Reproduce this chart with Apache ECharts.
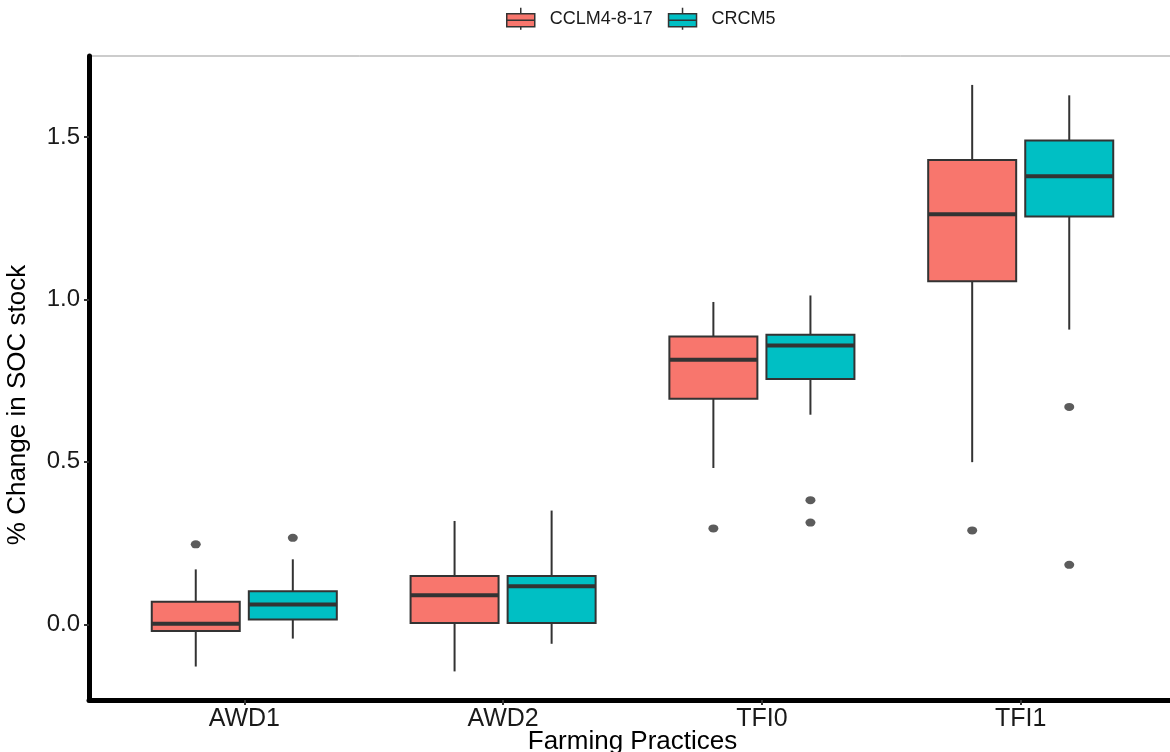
<!DOCTYPE html>
<html>
<head>
<meta charset="utf-8">
<script src="https://cdn.jsdelivr.net/npm/echarts@6/dist/echarts.min.js"></script>
<style>
html,body{margin:0;padding:0;background:#fff;}
#chart{width:1170px;height:752px;}
</style>
</head>
<body>
<div id="chart"></div>
<script>
// ---- data ----
const categories = ['AWD1', 'AWD2', 'TFI0', 'TFI1'];
const seriesNames = ['CCLM4-8-17', 'CRCM5'];
const yTicks = [0, 0.5, 1.0, 1.5];

// CCLM4-8-17 : [lowerWhisker, Q1, median, Q3, upperWhisker] per category
const cclmLow  = [-0.130, -0.145, 0.481, 0.499];
const cclmQ1   = [-0.021,  0.004, 0.694, 1.056];
const cclmMed  = [ 0.002,  0.089, 0.814, 1.262];
const cclmQ3   = [ 0.069,  0.149, 0.886, 1.429];
const cclmHigh = [ 0.169,  0.318, 0.992, 1.660];
const cclmOutliers = [['AWD1', 0.246], ['TFI0', 0.295], ['TFI1', 0.289]];

// CRCM5
const crcmLow  = [-0.044, -0.060, 0.645, 0.907];
const crcmQ1   = [ 0.015,  0.004, 0.755, 1.255];
const crcmMed  = [ 0.061,  0.117, 0.858, 1.379];
const crcmQ3   = [ 0.102,  0.149, 0.891, 1.489];
const crcmHigh = [ 0.200,  0.350, 1.012, 1.628];
const crcmOutliers = [['AWD1', 0.266], ['TFI0', 0.382], ['TFI0', 0.313], ['TFI1', 0.669], ['TFI1', 0.183]];

// ---- styling / layout ----
const colors = ['#F8766D', '#00BFC4'];
const dodge = [-0.1875, 0.1875];
const boxWidth = 0.34;
const FONT = 'Liberation Sans, Arial, sans-serif';

function boxData(lo, q1, med, q3, hi) {
  return categories.map((c, i) => [i + 1, lo[i], q1[i], med[i], q3[i], hi[i]]);
}
function outlierData(list, d) {
  return list.map(o => [categories.indexOf(o[0]) + 1 + d, o[1]]);
}

function makeRender(d, color) {
  return function (params, api) {
    const x = api.value(0);
    const band = api.size([1, 0])[0];
    const cx = api.coord([x + d, 0])[0];
    const w = band * boxWidth;
    const yLo = api.coord([x, api.value(1)])[1];
    const yQ1 = api.coord([x, api.value(2)])[1];
    const yMed = api.coord([x, api.value(3)])[1];
    const yQ3 = api.coord([x, api.value(4)])[1];
    const yHi = api.coord([x, api.value(5)])[1];
    const stroke = '#333333';
    return {
      type: 'group',
      children: [
        { type: 'line', shape: { x1: cx, y1: yHi, x2: cx, y2: yQ3 }, style: { stroke: stroke, lineWidth: 2 } },
        { type: 'line', shape: { x1: cx, y1: yQ1, x2: cx, y2: yLo }, style: { stroke: stroke, lineWidth: 2 } },
        { type: 'rect', shape: { x: cx - w / 2, y: yQ3, width: w, height: yQ1 - yQ3 }, style: { fill: color, stroke: stroke, lineWidth: 2 } },
        { type: 'line', shape: { x1: cx - w / 2, y1: yMed, x2: cx + w / 2, y2: yMed }, style: { stroke: stroke, lineWidth: 4 } }
      ]
    };
  };
}

const boxIcon = 'path://M14,0L14,6M0,6L28,6L28,19L0,19ZM0,12.5L28,12.5M14,19L14,22';

const chart = echarts.init(document.getElementById('chart'), null, { renderer: 'canvas' });
chart.setOption({
  backgroundColor: '#ffffff',
  animation: false,
  textStyle: { fontFamily: FONT },
  legend: {
    top: 7,
    left: 506,
    padding: 0,
    itemWidth: 28,
    itemHeight: 22,
    itemGap: 15,
    icon: boxIcon,
    symbolKeepAspect: false,
    itemStyle: { borderColor: '#333333', borderWidth: 1.5 },
    textStyle: { fontSize: 18, color: '#1a1a1a', fontFamily: FONT, padding: [0, 0, 0, 10] },
    data: seriesNames
  },
  grid: {
    left: 89,
    top: 56,
    width: 1087,
    height: 644,
    outerBoundsMode: 'none',
    containLabel: false,
    show: true,
    borderColor: '#999999',
    borderWidth: 1,
    backgroundColor: 'transparent'
  },
  xAxis: {
    type: 'value',
    min: 0.4,
    max: 4.6,
    name: 'Farming Practices',
    nameLocation: 'middle',
    nameGap: 29,
    nameMoveOverlap: false,
    nameTextStyle: { fontSize: 26, color: '#000', fontFamily: FONT },
    splitLine: { show: false },
    axisLine: { show: true, onZero: false, lineStyle: { color: '#000', width: 5 } },
    axisTick: { show: true, customValues: [1, 2, 3, 4], length: 5, lineStyle: { color: '#333', width: 2 } },
    axisLabel: {
      show: true,
      customValues: [1, 2, 3, 4],
      formatter: v => categories[Math.round(v) - 1],
      fontSize: 25, color: '#1a1a1a', margin: 7, fontFamily: FONT
    }
  },
  yAxis: {
    type: 'value',
    min: -0.233,
    max: 1.749,
    name: '% Change in SOC stock',
    nameLocation: 'middle',
    nameGap: 58,
    nameMoveOverlap: false,
    nameTextStyle: { fontSize: 26, color: '#000', fontFamily: FONT, padding: [0, 54, 0, 0] },
    splitLine: { show: false },
    axisLine: { show: true, onZero: false, lineStyle: { color: '#000', width: 5 } },
    axisTick: { show: true, customValues: yTicks, length: 5, lineStyle: { color: '#333', width: 2 } },
    axisLabel: {
      show: true,
      customValues: yTicks,
      formatter: v => v.toFixed(1),
      fontSize: 24, color: '#1a1a1a', margin: 9, fontFamily: FONT
    }
  },
  series: [
    {
      name: seriesNames[0], type: 'custom',
      itemStyle: { color: colors[0] },
      renderItem: makeRender(dodge[0], colors[0]),
      encode: { x: 0, y: [1, 2, 3, 4, 5] },
      data: boxData(cclmLow, cclmQ1, cclmMed, cclmQ3, cclmHigh),
      z: 3
    },
    {
      name: seriesNames[1], type: 'custom',
      itemStyle: { color: colors[1] },
      renderItem: makeRender(dodge[1], colors[1]),
      encode: { x: 0, y: [1, 2, 3, 4, 5] },
      data: boxData(crcmLow, crcmQ1, crcmMed, crcmQ3, crcmHigh),
      z: 3
    },
    {
      name: 'outliers-1', type: 'scatter',
      symbol: 'circle', symbolSize: [10, 8],
      itemStyle: { color: '#333333' },
      data: outlierData(cclmOutliers, dodge[0]),
      z: 4
    },
    {
      name: 'outliers-2', type: 'scatter',
      symbol: 'circle', symbolSize: [10, 8],
      itemStyle: { color: '#333333' },
      data: outlierData(crcmOutliers, dodge[1]),
      z: 4
    }
  ]
});
</script>
</body>
</html>
